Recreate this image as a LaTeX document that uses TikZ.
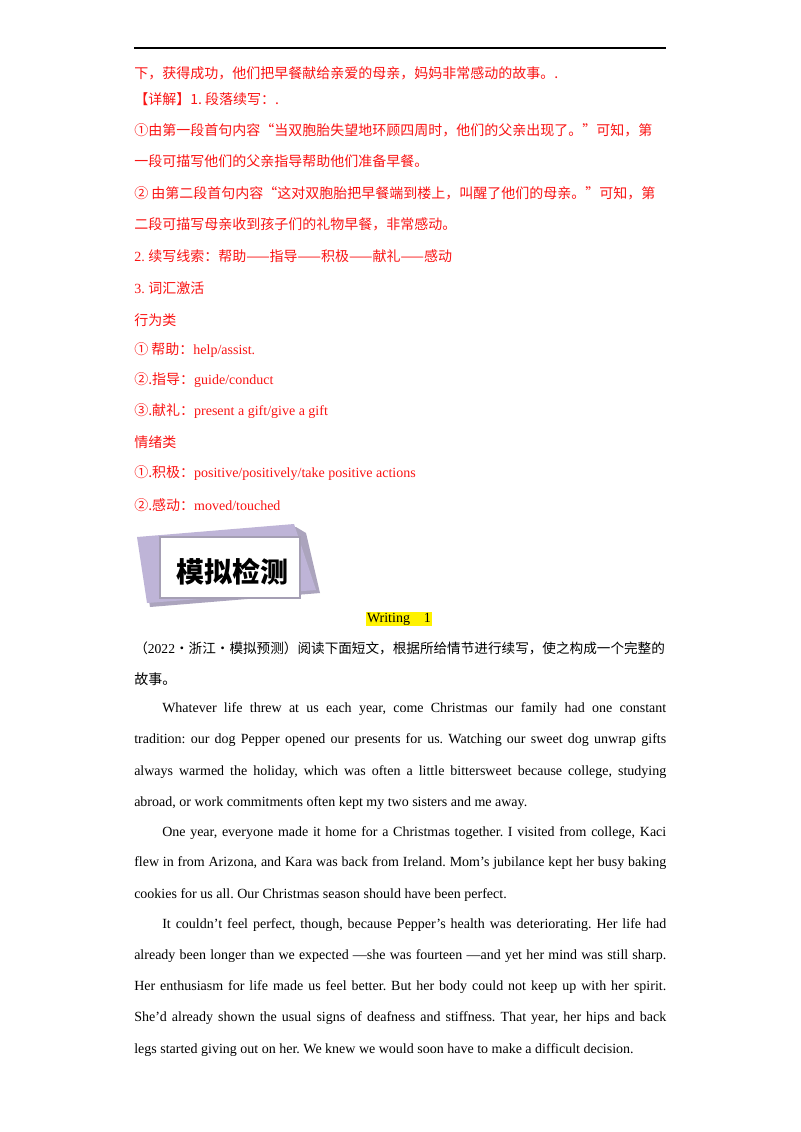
\documentclass[tikz,border=0pt]{standalone}
\usepackage{fontspec}
\usepackage{graphicx}
\setmainfont{Liberation Serif}
\newfontfamily\cjk{Noto Sans CJK SC}
\definecolor{myred}{RGB}{250,20,20}
\definecolor{lav}{RGB}{190,180,215}
\begin{document}
\frenchspacing
\begin{tikzpicture}[x=0.75pt,y=-0.75pt,
  r/.style={anchor=west,inner sep=0,text=myred,font=\fontsize{10.5pt}{12pt}\selectfont},
  b/.style={anchor=west,inner sep=0,font=\fontsize{10.5pt}{12pt}\selectfont}]
\useasboundingbox (0,0) rectangle (800,1132);
\fill[white] (0,0) rectangle (800,1132);
\draw[line width=1.2pt] (134,48) -- (666,48);
\node[r] (l1) at (134,73) {\cjk 下，获得成功，他们把早餐献给亲爱的母亲，妈妈非常感动的故事。.};
\node[r] (l2) at (134,99) {\cjk 【详解】1. 段落续写：.};
\node[r] (l3) at (134,130) {\cjk ①由第一段首句内容“当双胞胎失望地环顾四周时，他们的父亲出现了。”可知，第};
\node[r] (l4) at (134,161) {\cjk 一段可描写他们的父亲指导帮助他们准备早餐。};
\node[r] (l5) at (134,193) {\cjk ② 由第二段首句内容“这对双胞胎把早餐端到楼上，叫醒了他们的母亲。”可知，第};
\node[r] (l6) at (134,224) {\cjk 二段可描写母亲收到孩子们的礼物早餐，非常感动。};
\node[r] (l7) at (134,256) {2. {\cjk 续写线索：帮助——指导——积极——献礼——感动}};
\node[r] (l8) at (134,288) {3. {\cjk 词汇激活}};
\node[r] (l9) at (134,320) {\cjk 行为类};
\node[r] (l10) at (134,350) {{\cjk ① 帮助：}help/assist.};
\node[r] (l11) at (134,380) {{\cjk ②.指导：}guide/conduct};
\node[r] (l12) at (134,411) {{\cjk ③.献礼：}present a gift/give a gift};
\node[r] (l13) at (134,442) {\cjk 情绪类};
\node[r] (l14) at (134,473) {{\cjk ①.积极：}positive/positively/take positive actions};
\node[r] (l15) at (134,505) {{\cjk ②.感动：}moved/touched};
% banner
\fill[lav!70!gray] (140,541) -- (296,527) -- (306,533) -- (320,593) -- (150,607) -- cycle;
\fill[lav] (137,537) -- (294,524) -- (316,590) -- (147,603) -- cycle;
\draw[lav!60!gray,line width=1pt,fill=white] (160,537) rectangle (300,598);
\node[inner sep=0,font=\fontsize{21pt}{22pt}\selectfont\cjk\bfseries] (ban) at (232,572) {模拟检测};
\node[b,fill=yellow,inner sep=1pt,anchor=center] (w1) at (399,619) {Writing\quad 1};
\node[b] (c1) at (134,648) {\resizebox{398pt}{!}{{\cjk （}2022{\cjk ·浙江·模拟预测）阅读下面短文，根据所给情节进行续写，使之构成一个完整的}}};
\node[b] (c2) at (134,679) {\cjk 故事。};
\newcommand\jl[3]{\node[b] at (#1,#2) {\hbox to \dimexpr 666pt*3/4-#1pt*3/4\relax{#3}};}
\jl{162}{709}{Whatever life threw at us each year, come Christmas our family had one constant}
\jl{134}{740}{tradition: our dog Pepper opened our presents for us. Watching our sweet dog unwrap gifts}
\jl{134}{772}{always warmed the holiday, which was often a little bittersweet because college, studying}
\node[b] at (134,803) {abroad, or work commitments often kept my two sisters and me away.};
\jl{162}{833}{One year, everyone made it home for a Christmas together. I visited from college, Kaci}
\jl{134}{863}{flew in from Arizona, and Kara was back from Ireland. Mom’s jubilance kept her busy baking}
\node[b] at (134,895) {cookies for us all. Our Christmas season should have been perfect.};
\jl{162}{925}{It couldn’t feel perfect, though, because Pepper’s health was deteriorating. Her life had}
\jl{134}{956}{already been longer than we expected —she was fourteen —and yet her mind was still sharp.}
\jl{134}{987}{Her enthusiasm for life made us feel better. But her body could not keep up with her spirit.}
\jl{134}{1018}{She’d already shown the usual signs of deafness and stiffness. That year, her hips and back}
\node[b] at (134,1050) {legs started giving out on her. We knew we would soon have to make a difficult decision.};
\end{tikzpicture}
\end{document}
